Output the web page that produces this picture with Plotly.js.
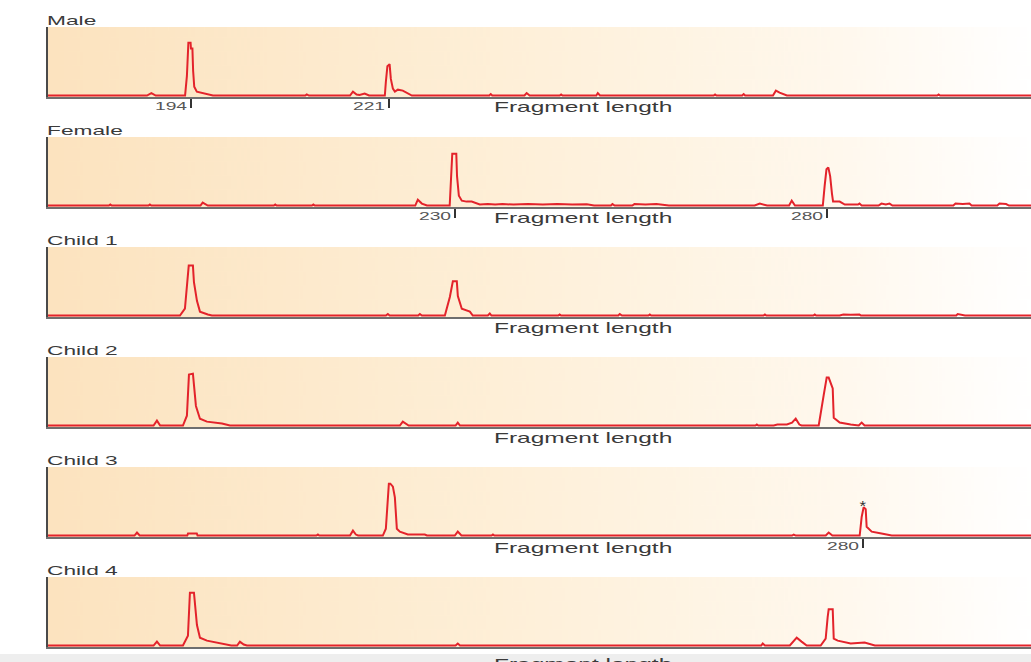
<!DOCTYPE html>
<html><head><meta charset="utf-8">
<script src="https://cdn.plot.ly/plotly-3.0.1.min.js"></script>
<style>
html,body{margin:0;padding:0;background:#fff;}
#chart{width:1031px;height:662px;}
.annotation-text{transform-box:fill-box;transform-origin:0% 50%;transform:scaleX(1.75);}
.annotation.nostretch .annotation-text{transform:scaleX(1.2);transform-origin:50% 50%;}
</style></head><body><div id="chart"></div>
<script>
// ---- data (fragment length, signal) ----
const panelNames = ['Male', 'Female', 'Child 1', 'Child 2', 'Child 3', 'Child 4'];

const maleTrace = [[174.5,0],[188.0,0],[188.6,2.5],[189.2,0],[193.2,0],[193.45,20],[193.65,54],[193.95,54],[194.0,48],[194.2,48],[194.3,25],[194.45,9],[194.8,4],[195.9,2],[197.0,0],
 [209.6,0],[209.8,1.2],[210.1,0],[215.7,0],[216.1,4],[216.6,1],[217.0,0.5],[217.7,2],[218.3,0],
 [220.45,0],[220.59,14],[220.8,30],[221.1,32],[221.27,17],[221.55,7],[221.82,4],[222.23,6],[222.9,5],[224.14,0],
 [234.7,0],[234.9,1.5],[235.1,0],[239.5,0],[239.8,2.5],[240.2,0],[244.3,0],[244.5,1],[244.7,0],[249.3,0],[249.5,2.5],[249.8,0],
 [265.3,0],[265.5,1],[265.7,0],[269.2,0],[269.4,1.5],[269.6,0],[273.4,0],[273.8,5],[274.3,3],[275.3,0],[295.8,0],[296.0,1],[296.2,0],[308.6,0]];

const femaleTrace = [[174.5,0],[182.8,0],[183.0,1],[183.2,0],[188.2,0],[188.4,1],[188.6,0],[195.3,0],[195.6,3],[196.0,1.5],[196.3,0],[205.3,0],[205.5,1],[205.7,0],[210.5,0],[210.7,1],[210.9,0],
 [224.6,0],[224.95,6],[225.5,2],[226.2,0],[229.3,0],[229.45,19],[229.65,53],[230.2,53],[230.3,30],[230.55,10],[230.95,5],[231.6,4],[232.3,4],[233.4,1],
 [234.5,1.5],[235.5,1],[236.5,1.5],[238,1],[240,1.5],[242,1],[244,1.5],[246,1],[248,1.2],[249,0],[251.3,0],[251.5,1.5],[251.8,0],[254.2,0],[254.5,1.5],[256,1],[257.5,1.5],[259.2,0],
 [270.9,0],[271.6,2],[272.6,0],[275.6,0],[275.96,5],[276.4,0],[280.2,0],[280.45,20],[280.7,37],[280.95,39],[281.2,30],[281.45,12],[281.6,4],[282.5,4],[283.2,1],
 [285.0,1],[285.2,2],[285.5,0],[287.8,0],[288.2,2],[288.8,1],[289.3,2],[289.7,0],[298.0,0],[298.3,2],[299.3,1.5],[300.2,2],[300.5,0],[304.0,0],[304.3,2],[305.2,1.5],[305.6,0],[308.6,0]];

const child1Trace = [[174.5,0],[192.5,0],[193.18,7],[193.45,32],[193.7,51],[194.27,51],[194.41,34],[194.82,15],[195.23,4],[196.3,1],[196.86,0],
 [220.6,0],[220.86,1.5],[221.1,0],[225.0,0],[225.23,1.5],[225.5,0],[228.64,0],[229.32,19],[229.73,35],[230.27,35],[230.41,20],[230.95,7],[232.05,4],[232.45,0],
 [234.5,0],[234.77,2],[235.0,0],[244.1,0],[244.3,1],[244.5,0],[252.3,0],[252.5,1.5],[252.8,0],[256.4,0],[256.6,1],[256.8,0],
 [272.1,0],[272.3,1],[272.5,0],[278.9,0],[279.1,1],[279.3,0],[282.5,0],[283,1],[284,0.8],[285.2,1],[285.4,0],[298.4,0],[298.6,1.5],[299.2,1],[299.6,0],[308.6,0]];

const child2Trace = [[174.5,0],[188.9,0],[189.36,5],[189.8,0],[192.91,0],[193.45,10],[193.73,52],[194.27,53],[194.68,20],[195.23,7],[196.18,4],[198.23,2],[199.32,0],
 [222.5,0],[222.9,4],[223.4,1],[223.7,0],[230.1,0],[230.4,3],[230.7,0],
 [271.0,0],[271.2,1],[271.4,0],[273.5,0],[274,1],[275.3,1],[276.0,3],[276.5,7],[277.0,1],[277.3,0],
 [279.64,0],[280.32,31],[280.73,49],[281.0,49],[281.55,38],[281.69,8],[282.5,3],[284.0,1],[285.1,0],[285.5,3],[285.9,0],[308.6,0]];

const child3Trace = [[174.5,0],[186.3,0],[186.64,3],[187.0,0],[193.5,0],[193.6,2],[194.8,2],[194.9,0],[211.1,0],[211.32,1],[211.5,0],[215.7,0],[216.1,5],[216.5,1],[216.8,0],
 [220.18,0],[220.59,7],[220.86,37],[221.0,53],[221.2,53],[221.55,50],[221.82,39],[222.09,7],[222.5,4],[223.59,1],[225.9,1],[226.2,0],
 [230.0,0],[230.4,4],[230.9,0],[235.0,0],[235.2,1],[235.4,0],[276.0,0],[276.23,1],[276.5,0],[280.6,0],[281.0,3],[281.5,0],
 [285.23,0],[285.5,19],[285.77,29],[286.05,27],[286.18,9],[286.87,4],[288.2,2],[289.6,0],[308.6,0]];

const child4Trace = [[174.5,0],[188.9,0],[189.36,4],[189.8,0],[192.91,0],[193.59,10],[193.86,54],[194.41,54],[194.82,21],[195.23,8],[196.18,5],[198.91,1],[199.5,0],
 [200.3,0],[200.68,4],[201.2,1],[201.64,0],[230.1,0],[230.4,2],[230.7,0],[271.8,0],[272.0,2],[272.3,0],
 [275.7,0],[276.64,8],[277.3,4],[278.0,0],[279.91,0],[280.59,7],[280.86,29],[281.0,37],[281.55,37],[281.69,7],[282.23,5],[284.0,2],[285.9,3],[287.3,0],[308.6,0]];

const panelTraces = [maleTrace, femaleTrace, child1Trace, child2Trace, child3Trace, child4Trace];

const tickPositions = [[194, 221], [230, 280.73], [], [], [285.64], []];
const tickLabels = [['194', '221'], ['230', '280'], [], [], ['280'], []];
const axisTitle = 'Fragment length';
const starMark = {panel: 4, x: 285.95, text: '*'};

const fragmentRange = [174.5, 308.6];
const signalRange = [-1.5, 70];

// ---- layout helpers (pixels of the 1031x662 page) ----
const W = 1031, H = 662, LEFT = 48;
const topPx = k => 27 + 110 * k;
const bottomPx = k => 97 + 110 * k;
const py = p => 1 - p / H;

function gradientURL() {
  const c = document.createElement('canvas');
  c.width = 600; c.height = 10;
  const g = c.getContext('2d');
  const lg = g.createLinearGradient(0, 0, 600, 0);
  lg.addColorStop(0, 'rgb(252,227,191)');
  lg.addColorStop(0.45, 'rgb(254,239,215)');
  lg.addColorStop(0.8, 'rgb(255,248,237)');
  lg.addColorStop(1, 'rgb(255,255,255)');
  g.fillStyle = lg; g.fillRect(0, 0, 600, 10);
  return c.toDataURL('image/png');
}
const bg = gradientURL();

const traces = [];
const layout = {
  width: W, height: H,
  margin: {l: 0, r: 0, t: 0, b: 0},
  paper_bgcolor: '#ffffff',
  plot_bgcolor: 'rgba(0,0,0,0)',
  showlegend: false,
  font: {family: 'Liberation Sans, Arial, sans-serif', color: '#333'},
  images: [], annotations: [], shapes: []
};

panelNames.forEach((name, k) => {
  const sx = k === 0 ? '' : String(k + 1);
  const top = topPx(k), bot = bottomPx(k);
  const pts = panelTraces[k];
  traces.push({
    type: 'scatter', mode: 'lines',
    x: pts.map(p => p[0]), y: pts.map(p => p[1]),
    xaxis: 'x' + sx, yaxis: 'y' + sx,
    line: {color: '#e3232b', width: 2},
    hoverinfo: 'skip'
  });
  layout['xaxis' + sx] = {
    domain: [LEFT / W, 1], range: fragmentRange, anchor: 'y' + sx,
    showgrid: false, zeroline: false, showline: true, linecolor: '#6e6e6e', linewidth: 2,
    tickmode: 'array', tickvals: tickPositions[k], ticks: tickPositions[k].length ? 'outside' : '',
    ticklen: 9, tickwidth: 2, tickcolor: '#333', showticklabels: false, fixedrange: true
  };
  layout['yaxis' + sx] = {
    domain: [py(bot), py(top)], range: signalRange, anchor: 'x' + sx,
    showgrid: false, zeroline: false, showline: true, linecolor: '#4a4a4a', linewidth: 2,
    ticks: '', showticklabels: false, fixedrange: true
  };
  layout.images.push({
    source: bg, xref: 'paper', yref: 'paper', x: LEFT / W, y: py(top),
    sizex: 1 - LEFT / W, sizey: (bot - top) / H, sizing: 'stretch', layer: 'below',
    xanchor: 'left', yanchor: 'top'
  });
  layout.annotations.push({
    xref: 'paper', yref: 'paper', x: 45 / W, y: py(top - 6.5),
    xanchor: 'left', yanchor: 'middle', align: 'left', showarrow: false,
    text: name, font: {size: 13, color: '#3a3a3a'}
  });
  layout.annotations.push({
    xref: 'x' + sx, yref: 'paper', x: 235.05, y: py(bot + (k === 5 ? 16 : 10)),
    xanchor: 'left', yanchor: 'middle', align: 'left', showarrow: false,
    text: axisTitle, font: {size: 14, color: '#3a3a3a'}
  });
  tickPositions[k].forEach((t, i) => {
    layout.annotations.push({
      xref: 'x' + sx, yref: 'paper', x: t - 5.2, y: py(bot + 9.2),
      xanchor: 'left', yanchor: 'middle', align: 'left', showarrow: false,
      text: tickLabels[k][i], font: {size: 11, color: '#555'}
    });
  });
});

const starIndex = layout.annotations.length;
layout.annotations.push({
  xref: 'x' + (starMark.panel + 1), yref: 'paper', x: starMark.x, y: py(505),
  xanchor: 'center', yanchor: 'middle', showarrow: false,
  text: starMark.text, font: {size: 14, color: '#333'}
});

layout.shapes.push({
  type: 'rect', xref: 'paper', yref: 'paper', x0: 0, x1: 1, y0: 0, y1: py(654),
  fillcolor: '#eeeeee', line: {width: 0}, layer: 'above'
});

Plotly.newPlot('chart', traces, layout, {displayModeBar: false, staticPlot: true}).then(() => {
  const g = document.querySelector('.annotation[data-index="' + starIndex + '"]');
  if (g) g.classList.add('nostretch');
});
</script></body></html>
